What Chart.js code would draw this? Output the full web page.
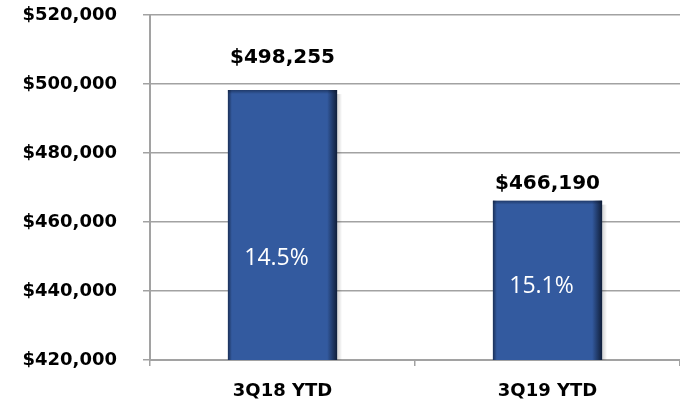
<!DOCTYPE html>
<html>
<head>
<meta charset="utf-8">
<script src="https://cdn.jsdelivr.net/npm/chart.js@4/dist/chart.umd.min.js"></script>
<style>
  html, body { margin: 0; padding: 0; background: #fff; }
  #wrap { width: 680px; height: 404px; }
</style>
</head>
<body>
<div id="wrap"><canvas id="chart"></canvas></div>
<script>
const categories = ['3Q18 YTD', '3Q19 YTD'];
const totals = [498255, 466190];
const shares = ['14.5%', '15.1%'];
const yTicks = [420000, 440000, 460000, 480000, 500000, 520000];

const blue = '#335a9f';
const grey = '#a2a2a2';

const money = v => '$' + v.toLocaleString('en-US');

// bevel + shade on the bars, and the two label sets
const barDecor = {
  id: 'barDecor',
  afterDatasetsDraw(chart) {
    const ctx = chart.ctx;
    const meta = chart.getDatasetMeta(0);
    const bottom = chart.chartArea.bottom;
    meta.data.forEach((bar, i) => {
      const left = bar.x - bar.width / 2;
      const right = bar.x + bar.width / 2;
      const top = bar.y;
      ctx.save();
      let g = ctx.createLinearGradient(right - 10, 0, right, 0);
      g.addColorStop(0, 'rgba(10,20,40,0)');
      g.addColorStop(1, 'rgba(10,20,40,0.85)');
      ctx.fillStyle = g;
      ctx.fillRect(right - 10, top, 10, bottom - top);
      g = ctx.createLinearGradient(left, 0, left + 4, 0);
      g.addColorStop(0, 'rgba(10,20,40,0.6)');
      g.addColorStop(1, 'rgba(10,20,40,0)');
      ctx.fillStyle = g;
      ctx.fillRect(left, top, 4, bottom - top);
      g = ctx.createLinearGradient(0, top, 0, top + 4);
      g.addColorStop(0, 'rgba(10,20,40,0.45)');
      g.addColorStop(1, 'rgba(10,20,40,0)');
      ctx.fillStyle = g;
      ctx.fillRect(left, top, right - left, 4);
      // soft shadow on the right
      g = ctx.createLinearGradient(right, 0, right + 5, 0);
      g.addColorStop(0, 'rgba(0,0,0,0.18)');
      g.addColorStop(1, 'rgba(0,0,0,0)');
      ctx.fillStyle = g;
      ctx.fillRect(right, top + 4, 5, bottom - top - 4);

      ctx.textAlign = 'center';
      ctx.textBaseline = 'middle';
      ctx.fillStyle = '#000';
      ctx.font = 'bold 20px "DejaVu Sans"';
      const lift = i === 0 ? 32 : 17;
      ctx.fillText(money(totals[i]), bar.x, top - lift);

      ctx.fillStyle = '#fff';
      ctx.font = '23px "Open Sans"';
      const frac = i === 0 ? 0.625 : 0.54;
      ctx.fillText(shares[i], bar.x - 6, top + (bottom - top) * frac);
      ctx.restore();
    });
  }
};

new Chart(document.getElementById('chart'), {
  type: 'bar',
  data: {
    labels: categories,
    datasets: [{
      data: totals,
      backgroundColor: blue,
      borderWidth: 0,
      categoryPercentage: 1,
      barPercentage: 0.412
    }]
  },
  options: {
    responsive: true,
    maintainAspectRatio: false,
    animation: false,
    layout: { padding: { top: 15, right: -4, bottom: 0, left: 0 } },
    plugins: {
      legend: { display: false },
      tooltip: { enabled: false }
    },
    scales: {
      x: {
        afterFit: axis => { axis.height = 44; },
        grid: {
          offset: true,
          drawOnChartArea: false,
          color: grey,
          lineWidth: 1.5,
          tickLength: 6
        },
        border: { color: grey, width: 2 },
        ticks: {
          color: '#000',
          padding: 15,
          font: { family: 'DejaVu Sans', size: 18, weight: 'bold' }
        }
      },
      y: {
        min: yTicks[0],
        max: yTicks[yTicks.length - 1],
        afterBuildTicks: axis => { axis.ticks = yTicks.map(v => ({ value: v })); },
        afterFit: axis => {
          axis.width = 150;
          axis.paddingTop = 0;
          axis.paddingBottom = 0;
        },
        grid: {
          color: grey,
          lineWidth: 1.5,
          tickLength: 7
        },
        border: { color: grey, width: 2 },
        ticks: {
          color: '#000',
          padding: 26,
          callback: v => money(v),
          font: { family: 'DejaVu Sans', size: 18, weight: 'bold' }
        }
      }
    }
  },
  plugins: [barDecor]
});
</script>
</body>
</html>
